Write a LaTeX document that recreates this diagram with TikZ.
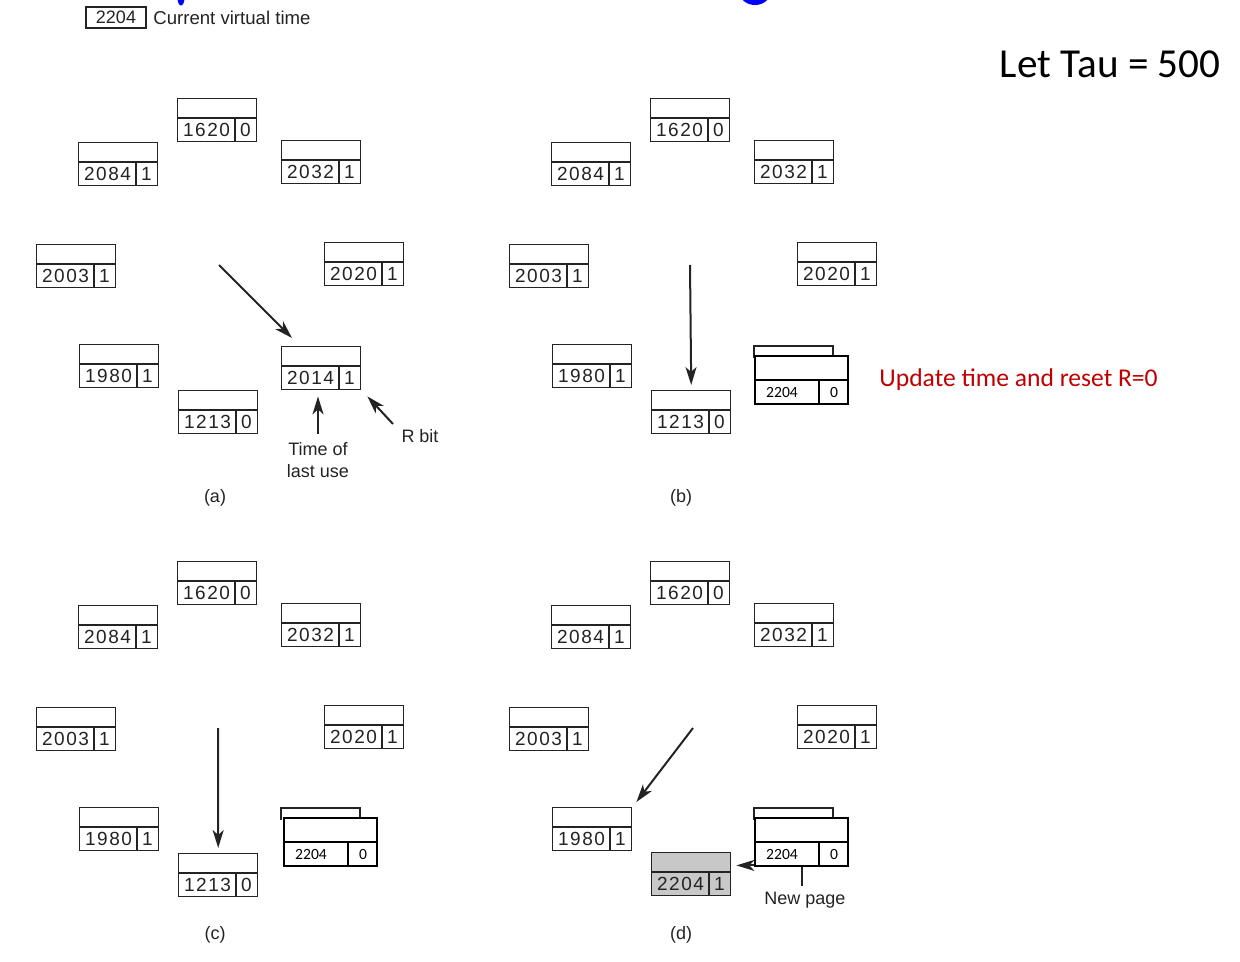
\documentclass[tikz,border=0pt]{standalone}
\usepackage{fontspec}
\setmainfont{Liberation Sans}
\newfontfamily\digf[LetterSpace=8]{Liberation Sans}
\newfontfamily\calf{Carlito}
\usetikzlibrary{arrows.meta}
\definecolor{ink}{RGB}{35,35,35}
\definecolor{redtxt}{RGB}{192,0,0}
\definecolor{grayfill}{RGB}{200,200,200}
\tikzset{
  pgbox/.style={draw=ink, line width=0.7pt, inner sep=0pt, minimum width=39.5pt, minimum height=21.5pt},
  pgline/.style={draw=ink, line width=0.7pt},
  digit/.style={font=\fontsize{9.5}{10}\digf, text=ink, inner sep=0pt},
  ovbox/.style={draw=black, line width=1.2pt, fill=white, inner sep=0pt, minimum width=46.5pt, minimum height=24pt},
  ovline/.style={draw=black, line width=1.2pt},
  smalldig/.style={font=\fontsize{7.8}{9}\calf, inner sep=0pt},
  lbl/.style={font=\fontsize{9}{11}\selectfont, text=ink, inner sep=0pt, align=center},
  arr/.style={draw=ink, line width=1pt, -{Stealth[length=9pt,width=5.5pt,inset=2.5pt]}},
}
% page box: [fill]{id}{x}{y}{time}{bit}
\newcommand\pgb[6][white]{%
  \node[pgbox, fill=#1, anchor=north west] (#2) at (#3,#4) {};
  \draw[pgline] (#3,#4+20) -- (#3+79,#4+20);
  \draw[pgline] (#3+58,#4+20) -- (#3+58,#4+43);
  \node[digit] (#2t) at (#3+29.5,#4+32) {#5};
  \node[digit] (#2b) at (#3+68.5,#4+32) {#6};
}
% overlay box: {id}{backx}{y}{frontx}{time}{bit}
\newcommand\ovb[6]{%
  \draw[pgline] (#2,#3+12) -- (#2,#3) -- (#2+79,#3) -- (#2+79,#3+12);
  \node[ovbox, anchor=north west] (#1) at (#4,#3+9) {};
  \draw[ovline] (#4,#3+34) -- (#4+93,#3+34);
  \draw[ovline] (#4+65,#3+34) -- (#4+65,#3+57);
  \node[smalldig] (#1t) at (#4+28,#3+46) {#5};
  \node[smalldig] (#1b) at (#4+80,#3+46) {#6};
}
% a panel's ring of boxes except the ones that vary: {prefix}{dx}{dy}
\newcommand\ring[3]{%
  \pgb{#1p1620}{177+#2}{98+#3}{1620}{0}
  \pgb{#1p2084}{78+#2}{142+#3}{2084}{1}
  \pgb{#1p2032}{281+#2}{140+#3}{2032}{1}
  \pgb{#1p2003}{36+#2}{244+#3}{2003}{1}
  \pgb{#1p2020}{324+#2}{242+#3}{2020}{1}
  \pgb{#1p1980}{79+#2}{344+#3}{1980}{1}
}
\begin{document}
\begin{tikzpicture}[x=0.5pt,y=-0.5pt]
\useasboundingbox (0,0) rectangle (1240,962);
% cut-off title fragments
\fill[blue] (181,-2) ellipse [x radius=3.5, y radius=7.5];
\fill[blue] (755,-9) ellipse [x radius=16, y radius=14];
% header
\node[draw=ink, line width=0.7pt, minimum width=30pt, minimum height=10.5pt, inner sep=0pt, font=\fontsize{9}{10}\selectfont, text=ink] (cvt) at (116,17.5) {2204};
\node[lbl, anchor=west, font=\fontsize{9.3}{11}\selectfont] (cvtl) at (153,17.5) {Current virtual time};
\node[font=\fontsize{20.6}{24}\calf, anchor=east, inner sep=0pt] (tau) at (1221,64) {Let Tau = 500};

% (a)
\ring{a}{0}{0}
\pgb{ap1213}{178}{390}{1213}{0}
\pgb{ap2014}{281}{346}{2014}{1}
\coordinate (aS) at (219,265);
\draw[arr] (aS) -- ([shift={(11,-8)}]ap2014.north west);
\node[lbl] (tol) at (318,460) {Time of\\last use};
\draw[arr] ([shift={(0,-8)}]tol.north) -- ([shift={(0,6)}]tol.north |- ap2014.south);
\node[lbl] (rbit) at (420,436) {R bit};
\coordinate (rS) at (393,424);
\draw[arr] (rS) -- ([shift={(6,6)}]ap2014.south east);
\node[lbl] (la) at (215,498) {(a)};

% (b)
\ring{b}{473}{0}
\pgb{bp1213}{651}{390}{1213}{0}
\ovb{bov}{754}{346}{754}{2204}{0}
\coordinate (bS) at (690,265);
\draw[arr] (bS) -- ([shift={(0,-5)}]bp1213.north);
\node[font=\fontsize{12.8}{15}\calf, text=redtxt, anchor=west, inner sep=0pt] (upd) at (879,380) {Update time and reset R=0};
\node[lbl] (lb) at (681,498) {(b)};

% (c)
\ring{c}{0}{463}
\pgb{cp1213}{178}{853}{1213}{0}
\ovb{cov}{281}{808}{283}{2204}{0}
\coordinate (cS) at (218,728);
\draw[arr] (cS) -- ([shift={(0,-5)}]cp1213.north);
\node[lbl] (lc) at (215,935) {(c)};

% (d)
\ring{d}{473}{463}
\pgb[grayfill]{dp2204}{651}{852}{2204}{1}
\ovb{dov}{754}{808}{754}{2204}{0}
\coordinate (dS) at (693,728);
\draw[arr] (dS) -- ([shift={(4,-5)}]dp1980.north east);
\draw[arr] ([shift={(0,-2)}]dov.south west) -- ([shift={(5,-2)}]dov.south west -| dp2204.east);
\node[lbl] (np) at (805,900) {New page};
\draw[pgline, line width=1pt] ([shift={(0,0)}]dov.south) -- ([shift={(0,-6)}]dov.south |- np.north);
\node[lbl] (ld) at (681,935) {(d)};
\end{tikzpicture}
\end{document}
